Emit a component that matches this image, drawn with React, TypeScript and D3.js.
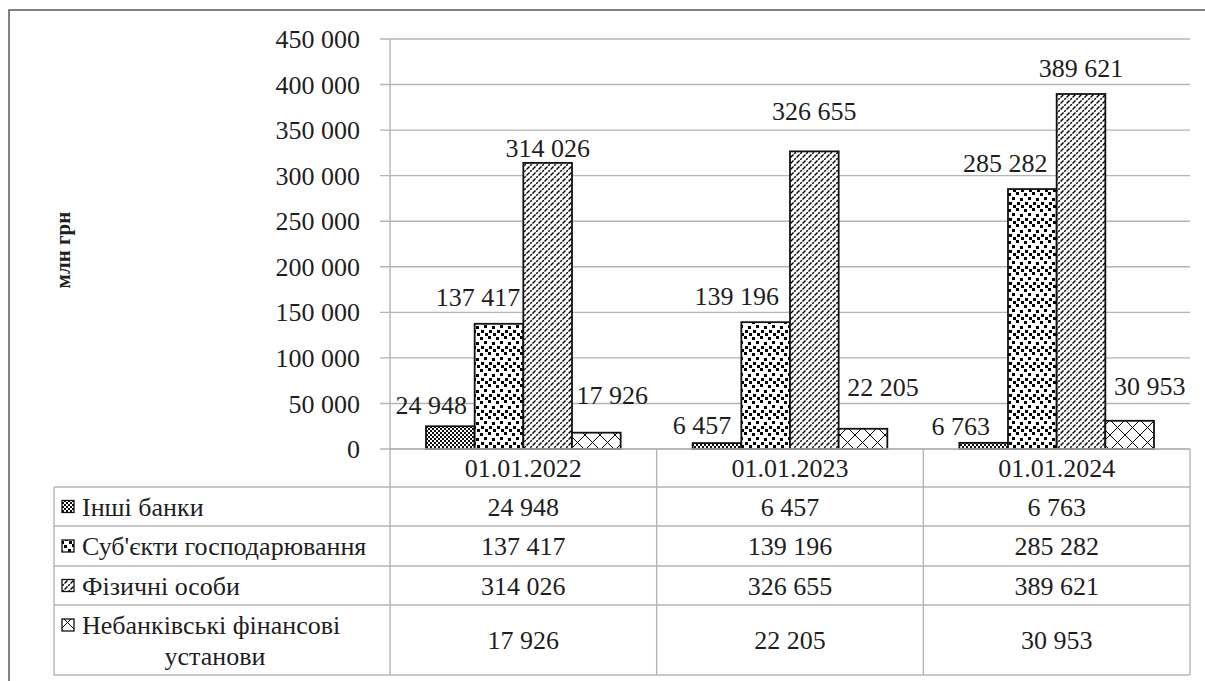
import * as d3 from "d3";

const CATEGORIES = ["01.01.2022", "01.01.2023", "01.01.2024"];
const SERIES = [
  "Інші банки",
  "Суб'єкти господарювання",
  "Фізичні особи",
  "Небанківські фінансові\nустанови",
];
const OTHER_BANKS = [24948, 6457, 6763];
const BUSINESSES = [137417, 139196, 285282];
const INDIVIDUALS = [314026, 326655, 389621];
const NONBANK = [17926, 22205, 30953];
const Y_TICKS = [0, 50000, 100000, 150000, 200000, 250000, 300000, 350000, 400000, 450000];
const Y_TITLE = "млн грн";

const VALUES = [OTHER_BANKS, BUSINESSES, INDIVIDUALS, NONBANK];
const PATTERNS = ["pat-checker", "pat-confetti", "pat-diag", "pat-cross"];

// labels were dragged by hand in the original, [dx, distance above bar top]
const LABEL_NUDGE = [
  [[-19, 21], [-15, 18], [-23, 17]],
  [[-21, 27], [-29, 26], [-27, 26]],
  [[0, 15], [0, 40], [0, 26]],
  [[16, 38], [20, 42], [20, 35]],
];

const W = 1205;
const H = 681;
const PLOT = { left: 390, right: 1190, top: 39, bottom: 449 };
const TABLE_LEFT = 54;
const ROW_LINES = [449, 487, 526, 566, 605, 675];
const FONT = "Liberation Serif";
const FONT_SIZE = 26;
const TEXT = "#1e1e1e";
const GRID = "#b4b4b4";
const CONFETTI = [
  [0, 1], [8, 0], [4, 5], [12, 6], [1, 10], [9, 10], [5, 13], [13, 13],
];

const fmt = d3.formatLocale({
  decimal: ",",
  thousands: " ",
  grouping: [3],
  currency: ["", ""],
}).format(",d");

const yScale = d3.scaleLinear().domain([0, 450000]).range([PLOT.bottom, PLOT.top]);
const x0 = d3.scaleBand().domain(CATEGORIES).range([PLOT.left, PLOT.right]);
const x1 = d3
  .scaleBand()
  .domain(SERIES)
  .range([0, x0.bandwidth()])
  .paddingInner(0)
  .paddingOuter(0.74);

const txt = { fontFamily: FONT, fontSize: `${FONT_SIZE}px` };

const Label = ({ x, y, s, anchor = "middle" }: { x: number; y: number; s: string; anchor?: string }) => (
  <text x={x} y={y} dy="0.35em" textAnchor={anchor as any} fill={TEXT} style={txt}>
    {s}
  </text>
);

const App = () => {
  const lastRow = ROW_LINES[ROW_LINES.length - 1];
  const colLines = [...CATEGORIES.map((c) => x0(c) ?? 0), PLOT.right];

  return (
    <svg width={W} height={H} style={{ position: "absolute", left: 0, top: 0, background: "#fff" }}>
      {/* the very first font lookup here tends to fall back to sans,
          so spend it on invisible text */}
      <text x={30} y={40} fill="#fff" style={{ fontFamily: '"Liberation Serif"', fontSize: "6px" }}>.</text>

      <defs>
        <pattern id="pat-checker" patternUnits="userSpaceOnUse" width={4} height={4}>
          <rect width={4} height={4} fill="#fff" />
          <rect width={2} height={2} fill="#111" />
          <rect x={2} y={2} width={2} height={2} fill="#111" />
        </pattern>
        <pattern id="pat-confetti" patternUnits="userSpaceOnUse" width={16} height={16}>
          <rect width={16} height={16} fill="#fff" />
          {CONFETTI.map(([x, y], i) => (
            <rect key={i} x={x} y={y} width={3} height={3} fill="#000" />
          ))}
        </pattern>
        <pattern id="pat-diag" patternUnits="userSpaceOnUse" width={6} height={6}>
          <rect width={6} height={6} fill="#fff" />
          <path
            d="M0,6 L6,0 M-1,1 L1,-1 M5,7 L7,5"
            stroke="#000"
            strokeWidth={1.4}
            strokeDasharray="2.2,1"
          />
        </pattern>
        <pattern id="pat-cross" patternUnits="userSpaceOnUse" width={15} height={15}>
          <rect width={15} height={15} fill="#fff" />
          <path d="M0,0 L15,15 M15,0 L0,15" stroke="#000" strokeWidth={1} />
        </pattern>
      </defs>

      {/* outer frame runs past the right and bottom edge */}
      <rect x={9} y={10} width={W + 20} height={H + 20} fill="none" stroke="#5a5a5a" strokeWidth={1.5} />

      {Y_TICKS.map((t) => (
        <g key={t}>
          <line x1={PLOT.left - 10} x2={PLOT.right} y1={yScale(t)} y2={yScale(t)} stroke={GRID} strokeWidth={1.4} />
          <Label x={360} y={yScale(t)} s={fmt(t)} anchor="end" />
        </g>
      ))}
      <line x1={PLOT.left} x2={PLOT.left} y1={PLOT.top} y2={PLOT.bottom} stroke={GRID} strokeWidth={1.4} />

      <text
        transform="translate(63,250) rotate(-90)"
        textAnchor="middle"
        dy="0.35em"
        fill={TEXT}
        style={{ fontFamily: FONT, fontWeight: "bold", fontSize: "21px" }}
      >
        {Y_TITLE}
      </text>

      {SERIES.map((s, si) =>
        VALUES[si].map((v, ci) => (
          <rect
            key={`${si}-${ci}`}
            x={(x0(CATEGORIES[ci]) ?? 0) + (x1(s) ?? 0)}
            y={yScale(v)}
            width={x1.bandwidth()}
            height={yScale(0) - yScale(v)}
            fill={`url(#${PATTERNS[si]})`}
            stroke="#111"
            strokeWidth={1.8}
          />
        ))
      )}

      {SERIES.map((s, si) =>
        VALUES[si].map((v, ci) => {
          const [dx, up] = LABEL_NUDGE[si][ci];
          const cx = (x0(CATEGORIES[ci]) ?? 0) + (x1(s) ?? 0) + x1.bandwidth() / 2;
          return <Label key={`l${si}-${ci}`} x={cx + dx} y={yScale(v) - up} s={fmt(v)} />;
        })
      )}

      {/* data table */}
      {ROW_LINES.map((y, i) => (
        <line
          key={`r${i}`}
          x1={i === 0 ? PLOT.left : TABLE_LEFT}
          x2={PLOT.right}
          y1={y}
          y2={y}
          stroke={GRID}
          strokeWidth={1.4}
        />
      ))}
      <line x1={TABLE_LEFT} x2={TABLE_LEFT} y1={ROW_LINES[1]} y2={lastRow} stroke={GRID} strokeWidth={1.4} />
      {colLines.map((x, i) => (
        <line key={`c${i}`} x1={x} x2={x} y1={ROW_LINES[0]} y2={lastRow} stroke={GRID} strokeWidth={1.4} />
      ))}

      {CATEGORIES.map((c) => (
        <Label key={c} x={(x0(c) ?? 0) + x0.bandwidth() / 2} y={(ROW_LINES[0] + ROW_LINES[1]) / 2} s={c} />
      ))}

      {SERIES.map((s, si) => {
        const mid = (ROW_LINES[si + 1] + ROW_LINES[si + 2]) / 2;
        const parts = s.split("\n");
        const firstY = parts.length > 1 ? mid - 15 : mid;
        return (
          <g key={s}>
            <rect
              x={62}
              y={firstY - 6}
              width={12}
              height={12}
              fill={`url(#${PATTERNS[si]})`}
              stroke="#111"
              strokeWidth={1.3}
            />
            {parts.map((p, pi) => (
              <Label
                key={p}
                x={pi === 0 ? 82 : 215}
                y={firstY + pi * 31}
                s={p}
                anchor={pi === 0 ? "start" : "middle"}
              />
            ))}
            {VALUES[si].map((v, ci) => (
              <Label key={ci} x={(x0(CATEGORIES[ci]) ?? 0) + x0.bandwidth() / 2} y={mid} s={fmt(v)} />
            ))}
          </g>
        );
      })}
    </svg>
  );
};

export default App;
